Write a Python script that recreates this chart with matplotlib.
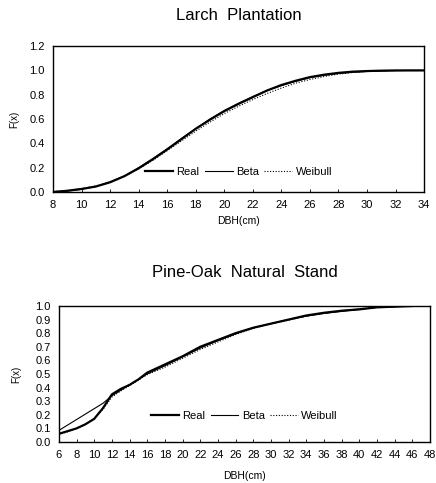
import matplotlib.pyplot as plt

plt.rcParams['font.family'] = ['Liberation Sans', 'DejaVu Sans']

# Larch Plantation
larch_x = list(range(8, 35))
larch_real = [0.0, 0.01, 0.025, 0.045, 0.08, 0.13, 0.195, 0.27, 0.35, 0.435, 0.52, 0.595, 0.665,
              0.725, 0.78, 0.835, 0.88, 0.915, 0.945, 0.965, 0.98, 0.99, 0.995, 0.998, 1.0, 1.0, 1.0]
larch_beta = [0.0, 0.008, 0.022, 0.045, 0.082, 0.132, 0.2, 0.275, 0.355, 0.44, 0.52, 0.6, 0.67,
              0.73, 0.785, 0.835, 0.875, 0.91, 0.94, 0.96, 0.975, 0.985, 0.992, 0.996, 0.999, 1.0, 1.0]
larch_weibull = [0.005, 0.012, 0.028, 0.05, 0.085, 0.13, 0.19, 0.26, 0.34, 0.42, 0.5, 0.575, 0.645,
                 0.705, 0.76, 0.81, 0.855, 0.895, 0.925, 0.95, 0.97, 0.983, 0.991, 0.996, 0.998, 1.0, 1.0]

# Pine-Oak Natural Stand
pine_x = [6, 7, 8, 9, 10, 11, 12, 13, 14, 15, 16, 18, 20, 22, 24, 26, 28, 30, 32, 34, 36, 38, 40, 42, 44, 46]
pine_real = [0.06, 0.08, 0.10, 0.13, 0.17, 0.25, 0.35, 0.39, 0.42, 0.46, 0.51, 0.57, 0.63, 0.70, 0.75,
             0.80, 0.84, 0.87, 0.90, 0.93, 0.95, 0.965, 0.975, 0.99, 0.995, 1.0]
pine_beta = [0.085, 0.125, 0.165, 0.205, 0.245, 0.285, 0.34, 0.38, 0.42, 0.46, 0.50, 0.56, 0.625, 0.69,
             0.745, 0.795, 0.84, 0.87, 0.90, 0.925, 0.945, 0.96, 0.975, 0.99, 0.995, 1.0]
pine_weibull = [0.055, 0.075, 0.10, 0.13, 0.17, 0.24, 0.33, 0.375, 0.415, 0.455, 0.495, 0.55, 0.615, 0.68,
                0.735, 0.79, 0.835, 0.87, 0.895, 0.925, 0.945, 0.965, 0.98, 0.99, 0.996, 1.0]

fig = plt.figure(figsize=(4.36, 4.83), dpi=100)


def draw(ax, x, real, beta, weib, title, xlim, xticks, ylim, yticks, legend_y, xpad, ypad, tpad):
    ax.plot(x, real, color='black', lw=1.6, label='Real')
    ax.plot(x, beta, color='black', lw=0.8, label='Beta')
    ax.plot(x, weib, color='black', lw=0.8, ls=(0, (1, 1.5)), label='Weibull')
    ax.set_xlim(*xlim)
    ax.set_ylim(*ylim)
    ax.set_xticks(xticks)
    ax.set_yticks(yticks)
    ax.set_yticklabels([f'{v:.1f}' for v in yticks])
    ax.tick_params(direction='in', length=2, labelsize=8, width=0.6)
    ax.tick_params(axis='y', length=0, pad=6)
    ax.tick_params(axis='x', pad=6)
    for s in ax.spines.values():
        s.set_linewidth(1.0)
    ax.set_ylabel('F(x)', fontsize=7, labelpad=ypad)
    ax.set_xlabel('DBH(cm)', fontsize=7.5, labelpad=xpad)
    ax.set_title(title, fontsize=12, pad=tpad)
    ax.legend(loc='center', bbox_to_anchor=(0.5, legend_y), ncol=3, frameon=False, fontsize=8,
              handlelength=2.5, handletextpad=0.3, columnspacing=0.5)


ax1 = fig.add_axes([0.1216, 0.6025, 0.851, 0.302])
draw(ax1, larch_x, larch_real, larch_beta, larch_weibull, 'Larch  Plantation',
     (8, 34), list(range(8, 35, 2)), (0, 1.2), [0.0, 0.2, 0.4, 0.6, 0.8, 1.0, 1.2], 0.14,
     4, 7, 19)

ax2 = fig.add_axes([0.135, 0.0849, 0.851, 0.2816])
draw(ax2, pine_x, pine_real, pine_beta, pine_weibull, 'Pine-Oak  Natural  Stand',
     (6, 48), list(range(6, 49, 2)), (0, 1.0), [i / 10 for i in range(11)], 0.19,
     8, 10, 21)

plt.savefig('out.png', dpi=100)
